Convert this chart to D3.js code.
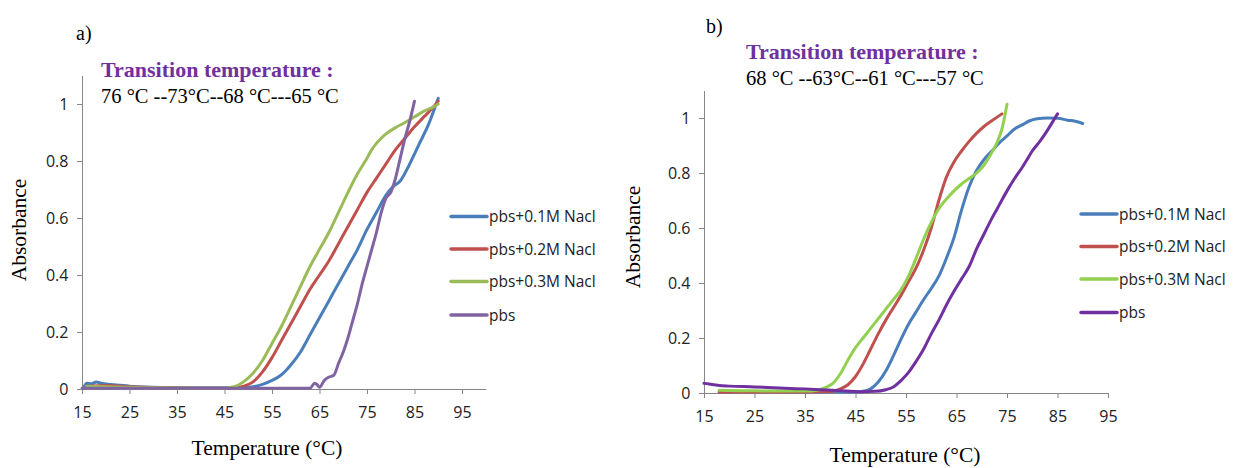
<!DOCTYPE html>
<html><head><meta charset="utf-8">
<script src="https://cdn.jsdelivr.net/npm/d3@7"></script>
<style>body{margin:0;background:#fff}svg{display:block}</style>
</head><body>
<svg id="c" width="1233" height="468"></svg>
<script>
// ---------- data ----------
const xTicks = [15,25,35,45,55,65,75,85,95];
const yTicks = [0,0.2,0.4,0.6,0.8,1];
const seriesNames = ["pbs+0.1M Nacl","pbs+0.2M Nacl","pbs+0.3M Nacl","pbs"];

// chart a
const aBlueT = [15.5,16,17,18,19,21,23,25,28,32,40,48,51,53,55,57,59,61,63,65,67,69,71,73,75,77,79,80.5,82,84,86,88,90];
const aBlueA = [0.01,0.02,0.018,0.025,0.02,0.016,0.013,0.01,0.007,0.005,0.004,0.004,0.008,0.016,0.03,0.05,0.085,0.13,0.19,0.25,0.31,0.37,0.43,0.49,0.56,0.62,0.68,0.71,0.73,0.79,0.86,0.93,1.02];
const aRedT = [16,20,25,30,40,47,49,51,53,55,57,59,61,63,65,67,69,71,73,75,77,79,81,83,85,87,89,90];
const aRedA = [0.01,0.012,0.008,0.005,0.003,0.003,0.01,0.025,0.06,0.11,0.17,0.23,0.29,0.35,0.4,0.45,0.51,0.57,0.63,0.69,0.74,0.79,0.84,0.88,0.92,0.955,0.99,1.01];
const aGreenT = [16,20,30,40,45,47,49,51,53,55,57,59,61,63,65,67,69,71,73,75,76,77,78,79,81,83,85,87,89,90];
const aGreenA = [0.01,0.008,0.004,0.003,0.003,0.008,0.025,0.055,0.1,0.16,0.22,0.29,0.36,0.43,0.49,0.55,0.62,0.69,0.755,0.81,0.84,0.862,0.88,0.895,0.917,0.935,0.955,0.975,0.99,1.0];
const aPurpleT = [15,20,30,40,50,60,63,64,64.5,65,66,67,68,69,70,71,72,73,74,75,76,77,78,79,80,81,82,83,84,85];
const aPurpleA = [0.003,0.003,0.003,0.003,0.003,0.003,0.003,0.02,0.015,0.006,0.03,0.042,0.048,0.09,0.13,0.18,0.24,0.3,0.37,0.43,0.49,0.55,0.62,0.67,0.69,0.74,0.81,0.88,0.94,1.01];

// chart b
const bBlueT = [18,25,35,45,46.5,48,49.5,51,52.5,54,55.5,57,58.5,60,61.5,63,64.5,66,67.5,69,70.5,72,73.5,75,76.5,78,79.5,81,83,85,87,88.5,90];
const bBlueA = [0.005,0.005,0.004,0.004,0.006,0.015,0.04,0.08,0.135,0.195,0.25,0.295,0.34,0.38,0.425,0.49,0.565,0.665,0.75,0.81,0.85,0.88,0.91,0.935,0.96,0.975,0.99,0.997,1.0,0.999,0.992,0.988,0.98];
const bRedT = [18,25,35,40,42,43.5,45,46.5,48,49.5,51,52.5,54,55.5,57,58.5,60,61.5,63,64.5,66,67.5,69,70.5,72,74];
const bRedA = [0.003,0.004,0.004,0.005,0.015,0.03,0.06,0.105,0.16,0.215,0.265,0.31,0.355,0.405,0.455,0.52,0.6,0.7,0.785,0.84,0.88,0.915,0.945,0.97,0.99,1.015];
const bGreenT = [18,20,25,30,35,37.5,39,40.5,42,43.5,45,46.5,48,49.5,51,52.5,54,55.5,57,58.5,60,61.5,63,64.5,66,67.5,69,70.5,72,73,74,75];
const bGreenA = [0.01,0.009,0.008,0.007,0.007,0.01,0.02,0.035,0.07,0.12,0.165,0.2,0.235,0.27,0.305,0.34,0.375,0.425,0.49,0.56,0.62,0.67,0.705,0.735,0.76,0.78,0.8,0.83,0.875,0.91,0.96,1.05];
const bPurpleT = [15,16,17,18,20,25,30,35,38,42,46,49,51,52.5,54,55.5,57,58.5,60,61.5,63,64.5,66,67.5,69,70.5,72,73.5,75,76.5,78,79,80,81.5,83,84,85];
const bPurpleA = [0.035,0.033,0.03,0.027,0.025,0.022,0.018,0.015,0.012,0.008,0.005,0.006,0.012,0.022,0.045,0.075,0.115,0.16,0.215,0.265,0.32,0.37,0.415,0.46,0.525,0.58,0.635,0.685,0.735,0.78,0.82,0.85,0.88,0.915,0.955,0.985,1.015];

const aTitle = "a)", bTitle = "b)";
const transLabel = "Transition temperature :";
const aTemps = "76 °C --73°C--68 °C---65 °C";
const bTemps = "68 °C --63°C--61 °C---57 °C";

// ---------- drawing ----------
const svg = d3.select("#c");
const zip = (T,A) => T.map((t,i)=>({t, a:A[i]}));

function panel(cfg){
  const x = d3.scaleLinear().domain(cfg.xDom).range([cfg.x0, cfg.x1]);
  const y = d3.scaleLinear().domain([0,1.1]).range([cfg.y0, cfg.y1]);
  const g = svg.append("g");
  const xa = g.append("g").attr("transform",`translate(0,${cfg.y0})`)
    .call(d3.axisBottom(x).tickValues(xTicks).tickSize(5).tickSizeOuter(0).tickFormat(d3.format("d")));
  const ya = g.append("g").attr("transform",`translate(${cfg.x0},0)`)
    .call(d3.axisLeft(y).tickValues(yTicks).tickSize(5).tickSizeOuter(0).tickFormat(d=> d===0?"0":d===1?"1":d3.format(".1f")(d)));
  [xa,ya].forEach(a=>{
    a.selectAll("path,line").attr("stroke","#868686");
    a.selectAll("text").attr("fill","#222").style("font-family","'Open Sans',sans-serif").style("font-size","16px");
  });
  xa.selectAll("text").attr("dy","1.3em");
  ya.selectAll("text").attr("dx","-0.35em");
  const line = d3.line().x(d=>x(d.t)).y(d=>y(d.a)).curve(d3.curveMonotoneX);
  cfg.series.forEach(s=>{
    g.append("path").datum(s.data).attr("d",line).attr("fill","none")
      .attr("stroke",s.color).attr("stroke-width",3).attr("stroke-linejoin","round").attr("stroke-linecap","round");
  });
  cfg.series.forEach((s,i)=>{
    const ly = cfg.legY[i];
    g.append("line").attr("x1",cfg.legX).attr("x2",cfg.legX+36).attr("y1",ly).attr("y2",ly)
      .attr("stroke",s.color).attr("stroke-width",3.5).attr("stroke-linecap","round");
    g.append("text").attr("x",cfg.legX+38).attr("y",ly+5.5).text(seriesNames[i])
      .style("font-family","'Open Sans',sans-serif").style("font-size","15.5px").attr("fill","#222");
  });
  const serif = "'Liberation Serif','Times New Roman',serif";
  g.append("text").attr("x",cfg.tagX).attr("y",cfg.tagY).text(cfg.tag).style("font-family",serif).style("font-size","20px");
  g.append("text").attr("x",cfg.ttX).attr("y",cfg.ttY).text(transLabel).style("font-family",serif)
    .style("font-size","22px").style("font-weight","bold").attr("fill","#7030A0");
  g.append("text").attr("x",cfg.ttX).attr("y",cfg.ttY+26).text(cfg.temps).style("font-family",serif).style("font-size","20.5px");
  g.append("text").attr("transform",`translate(${cfg.ylX},${cfg.ylY}) rotate(-90)`).attr("text-anchor","middle")
    .text("Absorbance").style("font-family",serif).style("font-size","21.5px");
  g.append("text").attr("x",cfg.xlX).attr("y",cfg.xlY).attr("text-anchor","middle")
    .text("Temperature (°C)").style("font-family",serif).style("font-size","21.5px");
}

panel({
  xDom:[15,100], x0:82, x1:485.75, y0:389, y1:75.5,
  series:[
    {data:zip(aBlueT,aBlueA), color:"#4A7EBB"},
    {data:zip(aRedT,aRedA), color:"#C0504D"},
    {data:zip(aGreenT,aGreenA), color:"#9BBB59"},
    {data:zip(aPurpleT,aPurpleA), color:"#8064A2"}
  ],
  legX:451, legY:[216.5,249,281.5,315],
  tag:aTitle, tagX:76, tagY:40, temps:aTemps, ttX:101, ttY:77,
  ylX:26, ylY:230, xlX:267, xlY:455
});
panel({
  xDom:[15,95], x0:704, x1:1108, y0:393, y1:90.5,
  series:[
    {data:zip(bBlueT,bBlueA), color:"#4A7EBB"},
    {data:zip(bRedT,bRedA), color:"#C0504D"},
    {data:zip(bGreenT,bGreenA), color:"#92D050"},
    {data:zip(bPurpleT,bPurpleA), color:"#7030A0"}
  ],
  legX:1081, legY:[214,246.5,279,312.5],
  tag:bTitle, tagX:706, tagY:33, temps:bTemps, ttX:746, ttY:59,
  ylX:640, ylY:237, xlX:905, xlY:462
});
</script>
</body></html>
